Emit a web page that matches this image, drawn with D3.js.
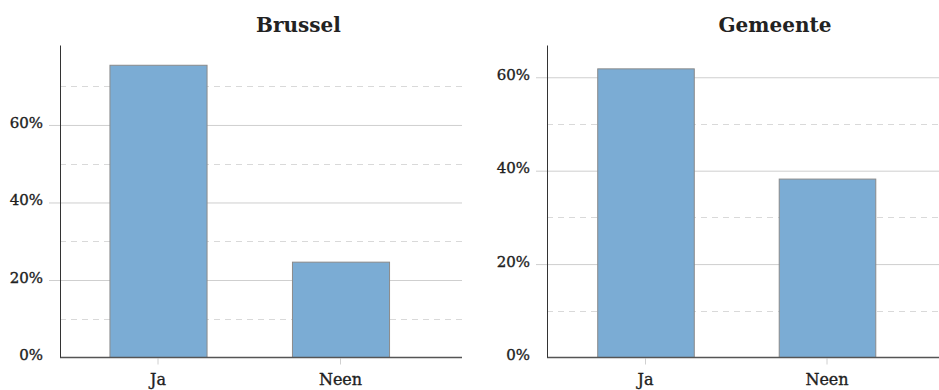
<!DOCTYPE html>
<html>
<head>
<meta charset="utf-8">
<script src="https://cdn.jsdelivr.net/npm/d3@7"></script>
<style>
  html, body { margin: 0; padding: 0; background: #fff; }
  svg { display: block; }
  text { font-family: "DejaVu Serif", "Liberation Serif", serif; fill: #222; }
</style>
</head>
<body>
<svg id="chart" width="939" height="390"></svg>
<script>
// Answers per region (percent of respondents)
const panelTitles = ["Brussel", "Gemeente"];
const categories = ["Ja", "Neen"];
const brusselValues = [75.4, 24.6];
const gemeenteValues = [61.8, 38.2];
const panelMax = [80.5, 66.8];
const majorTicks = [0, 20, 40, 60];
const minorTicks = [10, 30, 50, 70];

const svg = d3.select("#chart");

const panels = [
  { title: panelTitles[0], values: brusselValues, max: panelMax[0],
    left: 60, right: 462, band: [66.75, 431.75], titleX: 298.5 },
  { title: panelTitles[1], values: gemeenteValues, max: panelMax[1],
    left: 547, right: 939, band: [554.75, 917.75], titleX: 775 }
];

const plotTop = 45.5, plotBottom = 357.5;

// slightly heavier label text
const styleLabel = sel => sel
  .attr("font-family", "DejaVu Serif")
  .attr("fill", "#1e1e1e")
  .attr("stroke", "#1e1e1e")
  .attr("stroke-width", 0.35);

panels.forEach(p => {
  const g = svg.append("g");

  const y = d3.scaleLinear().domain([0, p.max]).range([plotBottom, plotTop]);
  const x = d3.scaleBand().domain(categories).range(p.band)
    .paddingInner(0.468).paddingOuter(0.234);

  // minor dashed gridlines
  g.append("g").selectAll("line")
    .data(minorTicks.filter(t => t <= p.max))
    .join("line")
    .attr("x1", p.left).attr("x2", p.right)
    .attr("y1", d => Math.round(y(d)) + 0.5).attr("y2", d => Math.round(y(d)) + 0.5)
    .attr("stroke", "#d9d9d9").attr("stroke-width", 1)
    .attr("stroke-dasharray", "6,5");

  // major gridlines with y axis labels
  const yAxis = d3.axisLeft(y).tickValues(majorTicks)
    .tickFormat(d => d + "%")
    .tickSize(-(p.right - p.left + 11)).tickPadding(6);
  const ya = g.append("g")
    .attr("transform", `translate(${p.left - 11},0)`)
    .call(yAxis);
  ya.select(".domain").remove();
  ya.selectAll(".tick line").attr("stroke", "#cfcfcf");
  ya.selectAll(".tick")
    .filter(d => d === 0).select("line").remove();
  ya.selectAll(".tick text")
    .attr("font-size", 15)
    .attr("dy", "0.15em")
    .call(styleLabel);

  // bars
  g.append("g").selectAll("rect")
    .data(p.values)
    .join("rect")
    .attr("x", (d, i) => x(categories[i]) + 0.5)
    .attr("width", x.bandwidth())
    .attr("y", d => y(d))
    .attr("height", d => plotBottom - y(d))
    .attr("fill", "#7bacd4")
    .attr("stroke", "#8a8a8a")
    .attr("stroke-width", 1);

  // x axis
  const xAxis = d3.axisBottom(x).tickSize(7).tickPadding(9);
  const xa = g.append("g")
    .attr("transform", `translate(0,${plotBottom})`)
    .call(xAxis);
  xa.select(".domain").remove();
  xa.selectAll(".tick line").attr("stroke", "#d0d0d0").attr("y1", 1);
  xa.selectAll(".tick text")
    .attr("font-size", 16)
    .call(styleLabel);

  g.append("line")
    .attr("x1", p.left).attr("x2", p.right)
    .attr("y1", plotBottom).attr("y2", plotBottom)
    .attr("stroke", "#555").attr("stroke-width", 1.6);

  g.append("line")
    .attr("x1", p.left + 0.5).attr("x2", p.left + 0.5)
    .attr("y1", plotTop).attr("y2", plotBottom)
    .attr("stroke", "#333").attr("stroke-width", 1);

  g.append("text")
    .attr("x", p.titleX).attr("y", 32)
    .attr("text-anchor", "middle")
    .attr("font-size", 20)
    .attr("font-weight", "bold")
    .text(p.title);
});
</script>
</body>
</html>
